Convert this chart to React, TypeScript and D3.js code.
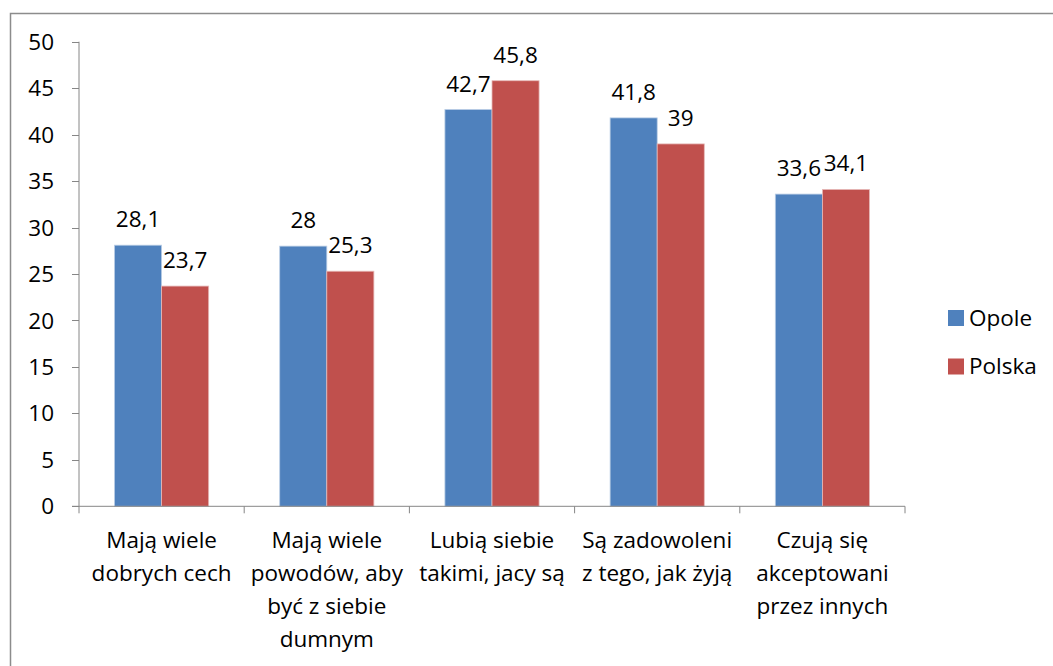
import React from "react";
import * as d3 from "d3";

const categories = [
  ["Mają wiele", "dobrych cech"],
  ["Mają wiele", "powodów, aby", "być z siebie", "dumnym"],
  ["Lubią siebie", "takimi, jacy są"],
  ["Są zadowoleni", "z tego, jak żyją"],
  ["Czują się", "akceptowani", "przez innych"],
];
const opole = [28.1, 28, 42.7, 41.8, 33.6];
const polska = [23.7, 25.3, 45.8, 39, 34.1];
const seriesNames = ["Opole", "Polska"];
const colors = ["#4F81BD", "#C0504D"];
const yTicks = [0, 5, 10, 15, 20, 25, 30, 35, 40, 45, 50];

const font = "'Open Sans', 'Noto Sans', sans-serif";
const fs = 22.5;
const fmt = (v: number) => String(v).replace(".", ",");

export default function App() {
  const w = 1053,
    h = 666;
  const left = 79,
    right = 905,
    top = 41.7,
    bottom = 506.3;

  const x = d3
    .scaleBand<number>()
    .domain(d3.range(categories.length))
    .range([left, right]);

  const y = d3.scaleLinear().domain([0, 50]).range([bottom, top]);

  const barW = x.bandwidth() * 0.285;
  const data = [opole, polska];
  const axisColor = "#868686";

  return (
    <svg
      width={w}
      height={h}
      style={{ position: "absolute", left: 0, top: 0, background: "#fff" }}
      fontFamily={font}
    >
      <rect x={10.5} y={13.5} width={1100} height={700} fill="#fff" stroke="#8c8c8c" strokeWidth={1.5} />

      {/* y axis */}
      <line x1={left} x2={left} y1={top} y2={bottom} stroke={axisColor} />
      {yTicks.map((t) => (
        <g key={t}>
          <line x1={left - 7} x2={left} y1={Math.round(y(t)) + 0.5} y2={Math.round(y(t)) + 0.5} stroke={axisColor} />
          <text x={54} y={y(t)} dy="0.36em" textAnchor="end" fontSize={fs} fill="#000">
            {t}
          </text>
        </g>
      ))}

      {/* bars */}
      {data.map((vals, s) =>
        vals.map((v, i) => {
          const cx = (x(i) as number) + x.bandwidth() / 2;
          const bx = cx - barW + s * barW;
          return (
            <g key={`${s}-${i}`}>
              <rect
                x={bx}
                y={y(v)}
                width={barW}
                height={bottom - y(v)}
                fill={colors[s]}
                stroke={s === 0 ? "#b9cde5" : "#e6b9b8"}
                strokeWidth={0.8}
              />
              <text
                x={bx + barW / 2}
                y={y(v) - 18}
                textAnchor="middle"
                fontSize={fs}
                fill="#000"
              >
                {fmt(v)}
              </text>
            </g>
          );
        })
      )}

      {/* x axis */}
      <line x1={left - 7} x2={right} y1={bottom} y2={bottom} stroke={axisColor} />
      {d3.range(categories.length + 1).map((i) => {
        const tx = left + i * x.step();
        return <line key={i} x1={tx} x2={tx} y1={bottom} y2={bottom + 7} stroke={axisColor} />;
      })}
      {categories.map((lines, i) => (
        <text
          key={i}
          x={(x(i) as number) + x.bandwidth() / 2}
          y={548}
          textAnchor="middle"
          fontSize={fs}
          fill="#000"
        >
          {lines.map((l, j) => (
            <tspan key={j} x={(x(i) as number) + x.bandwidth() / 2} dy={j === 0 ? 0 : 33}>
              {l}
            </tspan>
          ))}
        </text>
      ))}

      {/* legend */}
      {seriesNames.map((n, s) => (
        <g key={n} transform={`translate(948, ${310 + s * 48.5})`}>
          <rect width={16} height={16} fill={colors[s]} />
          <text x={21} y={15.5} fontSize={fs} fill="#000">
            {n}
          </text>
        </g>
      ))}
    </svg>
  );
}
